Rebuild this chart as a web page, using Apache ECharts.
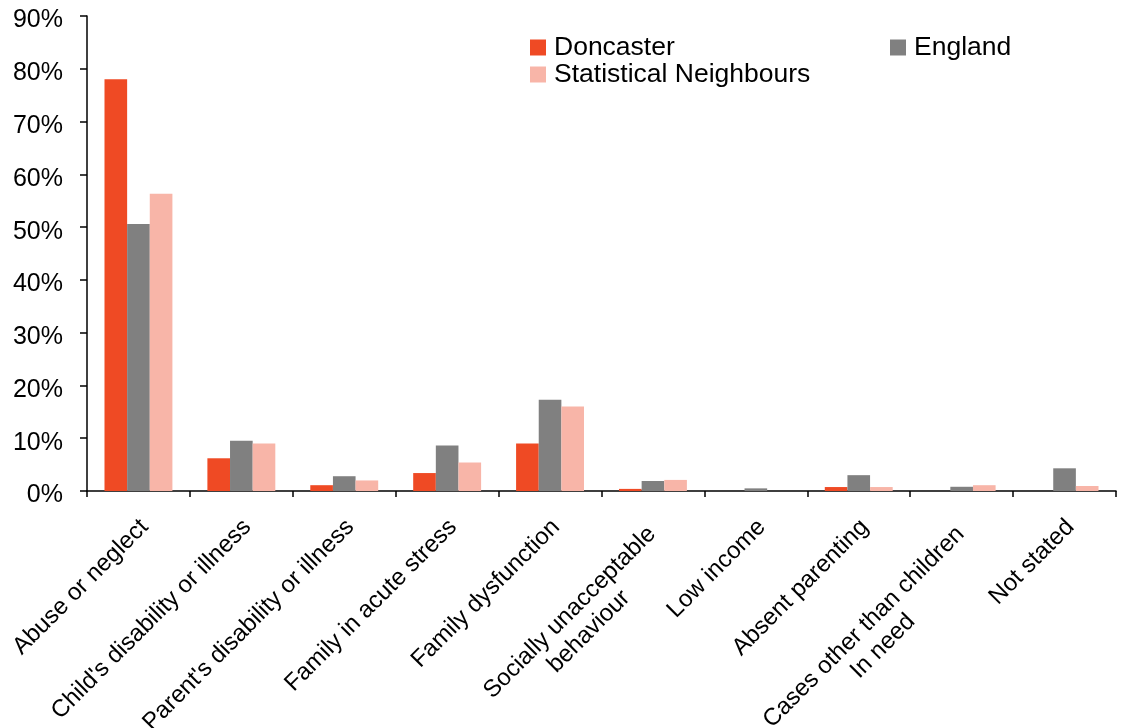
<!DOCTYPE html>
<html>
<head>
<meta charset="utf-8">
<script src="https://cdn.jsdelivr.net/npm/echarts@6/dist/echarts.min.js"></script>
<style>
html,body{margin:0;padding:0;background:#fff;}
#chart{width:1126px;height:728px;}
</style>
</head>
<body>
<div id="chart"></div>
<script>
var categories = [
  "Abuse or neglect",
  "Child's disability or illness",
  "Parent's disability or illness",
  "Family in acute stress",
  "Family dysfunction",
  "Socially unacceptable\nbehaviour",
  "Low income",
  "Absent parenting",
  "Cases other than children\nIn need",
  "Not stated"
];
var doncaster = [78.0, 6.2, 1.1, 3.4, 9.0, 0.4, 0, 0.75, 0, 0];
var england = [50.6, 9.5, 2.8, 8.6, 17.3, 1.9, 0.5, 3.0, 0.8, 4.3];
var statNeighbours = [56.3, 9.0, 2.0, 5.4, 16.0, 2.1, 0, 0.75, 1.1, 0.95];
var yTicks = [0, 10, 20, 30, 40, 50, 60, 70, 80, 90];

var FONT = "'Liberation Sans', Arial, Helvetica, sans-serif";
var chart = echarts.init(document.getElementById('chart'), null, {renderer: 'canvas'});

function legendFor(name, left, top) {
  return {
    data: [name],
    left: left, top: top,
    orient: 'horizontal',
    itemWidth: 16, itemHeight: 16,
    icon: 'rect',
    textStyle: {fontFamily: FONT, fontSize: 26.5, color: '#000', padding: [0, 0, 0, 3]},
    selectedMode: false
  };
}

chart.setOption({
  animation: false,
  backgroundColor: '#fff',
  textStyle: {fontFamily: FONT},
  legend: [
    legendFor('Doncaster', 525, 29),
    legendFor('England', 885, 29),
    legendFor('Statistical Neighbours', 525, 56)
  ],
  grid: {left: 87, right: 10, top: 16, bottom: 237, containLabel: false, outerBoundsMode: 'none'},
  xAxis: {
    type: 'category',
    data: categories,
    axisLine: {show: true, lineStyle: {color: '#000', width: 1.5}},
    axisTick: {show: true, length: 6, alignWithLabel: false, lineStyle: {color: '#000', width: 1.5}},
    axisLabel: {
      interval: 0,
      rotate: 45,
      margin: 8,
      align: 'right',
      verticalAlign: 'top',
      padding: [8, 13, 0, 0],
      color: '#000',
      fontFamily: FONT,
      fontSize: 24,
      lineHeight: 27,
      formatter: function (v) {
        if (v.indexOf('\n') >= 0) {
          var parts = v.split('\n');
          return parts.map(function (p) { return '{c|' + p + '}{sp|}'; }).join('\n');
        }
        return v;
      },
      rich: {
        c: {align: 'center', fontFamily: FONT, fontSize: 24, lineHeight: 27, color: '#000'},
        sp: {align: 'right', width: 10, fontSize: 24, lineHeight: 27}
      }
    },
    splitLine: {show: false}
  },
  yAxis: {
    type: 'value',
    min: yTicks[0],
    max: yTicks[yTicks.length - 1],
    interval: 10,
    axisLine: {show: true, lineStyle: {color: '#000', width: 1.5}},
    axisTick: {show: true, length: 7, lineStyle: {color: '#000', width: 1.5}},
    axisLabel: {
      formatter: '{value}%',
      margin: 24,
      color: '#000',
      fontFamily: FONT,
      fontSize: 25,
      verticalAlign: 'top',
      lineHeight: 9
    },
    splitLine: {show: false}
  },
  series: [
    {name: 'Doncaster', type: 'bar', data: doncaster, barGap: '0%', barCategoryGap: '34%', itemStyle: {color: '#EF4A24'}},
    {name: 'England', type: 'bar', data: england, barGap: '0%', barCategoryGap: '34%', itemStyle: {color: '#808080'}},
    {name: 'Statistical Neighbours', type: 'bar', data: statNeighbours, barGap: '0%', barCategoryGap: '34%', itemStyle: {color: '#F8B5A8'}}
  ]
});
</script>
</body>
</html>
